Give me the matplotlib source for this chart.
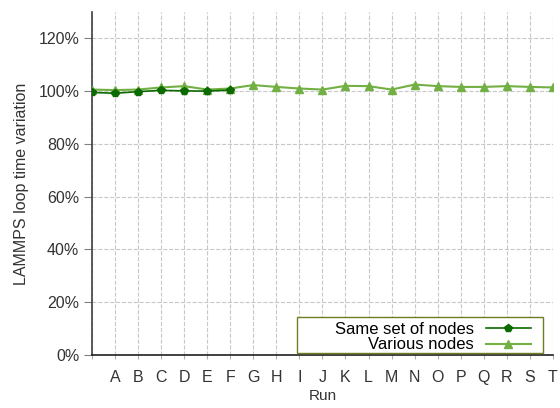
import matplotlib.pyplot as plt
from matplotlib.patches import Rectangle
from matplotlib.ticker import PercentFormatter

plt.rcParams['font.family'] = ['Liberation Sans', 'DejaVu Sans']

# runs: first position is the baseline (no label), then A..T
runs = [''] + list('ABCDEFGHIJKLMNOPQRST')
same_nodes = [0.995, 0.992, 0.998, 1.003, 1.001, 1.000, 1.004]
various_nodes = [1.006, 1.004, 1.006, 1.014, 1.019, 1.006, 1.010, 1.023, 1.016,
                 1.010, 1.006, 1.020, 1.019, 1.006, 1.025, 1.019, 1.016, 1.016,
                 1.019, 1.016, 1.014]

dark = '#0b6a00'
light = '#72b043'
txt = '#333333'

fig = plt.figure(figsize=(5.6, 4.08), dpi=100)
ax = fig.add_axes([0.164, 0.130, 0.8235, 0.8406])

x_all = list(range(len(runs)))
ax.plot(x_all, various_nodes, color=light, lw=1.5, marker='^', ms=6,
        label='Various nodes', zorder=3)
ax.plot(x_all[:len(same_nodes)], same_nodes, color=dark, lw=1.2, marker='p', ms=6,
        label='Same set of nodes', zorder=4)

ax.set_xlim(0, len(runs) - 1)
ax.set_ylim(0, 1.3)
ax.set_yticks([0, 0.2, 0.4, 0.6, 0.8, 1.0, 1.2])
ax.yaxis.set_major_formatter(PercentFormatter(1.0, decimals=0))
ax.set_xticks(x_all)
ax.set_xticklabels(runs)

ax.grid(True, ls='--', color='#c8c8c8', lw=0.8)
ax.set_axisbelow(True)
for s in ['top', 'right']:
    ax.spines[s].set_visible(False)
ax.spines['left'].set_color('#404040')
ax.spines['bottom'].set_color('#202020')
ax.spines['left'].set_linewidth(1.2)
ax.spines['bottom'].set_linewidth(1.2)
ax.tick_params(axis='y', length=6, color='#808080', labelsize=11.5, labelcolor=txt, pad=3)
ax.tick_params(axis='x', length=3, color='#b0b0b0', labelsize=11.5, labelcolor=txt, pad=8)

ax.set_xlabel('Run', fontsize=11, color=txt, labelpad=3)
ax.set_ylabel('LAMMPS loop time variation', fontsize=11.5, color=txt, labelpad=7)

# legend box is wider than its content, so draw the frame separately
ax.add_patch(Rectangle((0.445, 0.006), 0.533, 0.105, transform=ax.transAxes,
                       facecolor='white', edgecolor='#6f7f20', lw=1.0,
                       zorder=5, clip_on=False))
handles, labels = ax.get_legend_handles_labels()
leg = ax.legend(handles[::-1], labels[::-1], loc='lower right', markerfirst=False,
                fontsize=12, frameon=False, borderpad=0.15,
                labelspacing=0.05, handlelength=2.7, handletextpad=0.72,
                borderaxespad=0.0, bbox_to_anchor=(0.957, 0.0))
leg.set_zorder(6)

fig.savefig('out.png', dpi=100)
